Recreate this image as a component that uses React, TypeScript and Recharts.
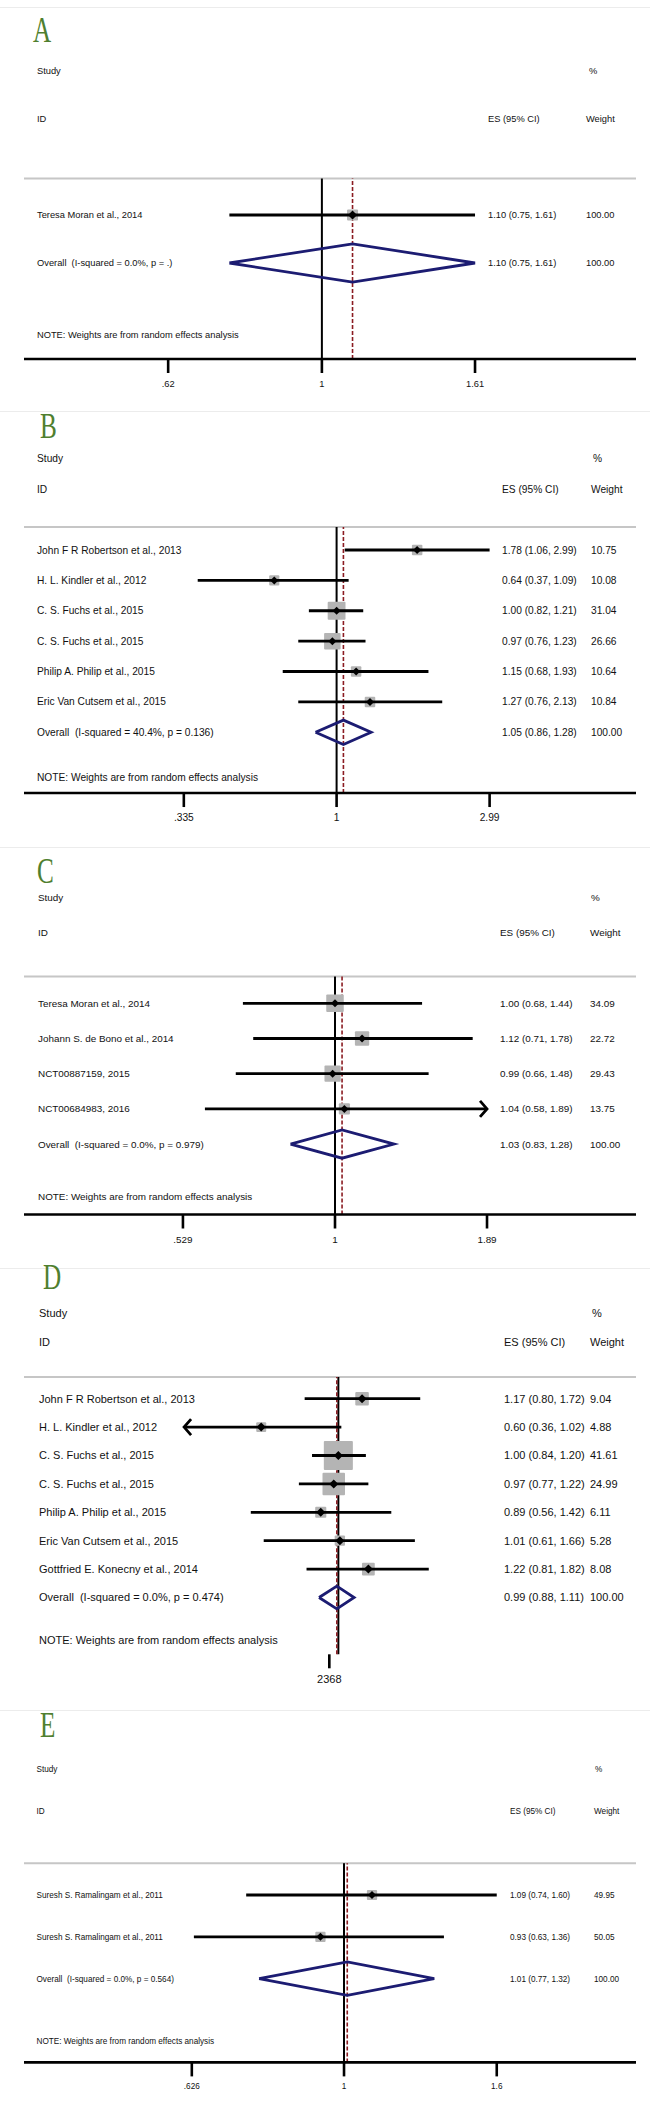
import { ComposedChart, Scatter, XAxis, YAxis, ReferenceLine } from 'recharts'

// ---- A
const aNames = ['Teresa Moran et al., 2014']
const aES = [1.1]
const aLo = [0.75]
const aHi = [1.61]
const aWeight = [100.0]
const aArrow = ['none']
const aOverall = [1.1, 0.75, 1.61]
const aHet = 'Overall  (I-squared = 0.0%, p = .)'
const aTicks = [0.62, 1, 1.61]
const aTickLabels = ['.62', '1', '1.61']

// ---- B
const bNames = [
  'John F R Robertson et al., 2013',
  'H. L. Kindler et al., 2012',
  'C. S. Fuchs et al., 2015',
  'C. S. Fuchs et al., 2015',
  'Philip A. Philip et al., 2015',
  'Eric Van Cutsem et al., 2015',
]
const bES = [1.78, 0.64, 1.0, 0.97, 1.15, 1.27]
const bLo = [1.06, 0.37, 0.82, 0.76, 0.68, 0.76]
const bHi = [2.99, 1.09, 1.21, 1.23, 1.93, 2.13]
const bWeight = [10.75, 10.08, 31.04, 26.66, 10.64, 10.84]
const bArrow = ['none', 'none', 'none', 'none', 'none', 'none']
const bOverall = [1.05, 0.86, 1.28]
const bHet = 'Overall  (I-squared = 40.4%, p = 0.136)'
const bTicks = [0.335, 1, 2.99]
const bTickLabels = ['.335', '1', '2.99']

// ---- C
const cNames = [
  'Teresa Moran et al., 2014',
  'Johann S. de Bono et al., 2014',
  'NCT00887159, 2015',
  'NCT00684983, 2016',
]
const cES = [1.0, 1.12, 0.99, 1.04]
const cLo = [0.68, 0.71, 0.66, 0.58]
const cHi = [1.44, 1.78, 1.48, 1.89]
const cWeight = [34.09, 22.72, 29.43, 13.75]
const cArrow = ['none', 'none', 'none', 'right']
const cOverall = [1.03, 0.83, 1.28]
const cHet = 'Overall  (I-squared = 0.0%, p = 0.979)'
const cTicks = [0.529, 1, 1.89]
const cTickLabels = ['.529', '1', '1.89']

// ---- D
const dNames = [
  'John F R Robertson et al., 2013',
  'H. L. Kindler et al., 2012',
  'C. S. Fuchs et al., 2015',
  'C. S. Fuchs et al., 2015',
  'Philip A. Philip et al., 2015',
  'Eric Van Cutsem et al., 2015',
  'Gottfried E. Konecny et al., 2014',
]
const dES = [1.17, 0.6, 1.0, 0.97, 0.89, 1.01, 1.22]
const dLo = [0.8, 0.36, 0.84, 0.77, 0.56, 0.61, 0.81]
const dHi = [1.72, 1.02, 1.2, 1.22, 1.42, 1.66, 1.82]
const dWeight = [9.04, 4.88, 41.61, 24.99, 6.11, 5.28, 8.08]
const dArrow = ['none', 'left', 'none', 'none', 'none', 'none', 'none']
const dOverall = [0.99, 0.88, 1.11]
const dHet = 'Overall  (I-squared = 0.0%, p = 0.474)'
const dTicks = [0.942]
const dTickLabels = ['2368']

// ---- E
const eNames = ['Suresh S. Ramalingam et al., 2011', 'Suresh S. Ramalingam et al., 2011']
const eES = [1.09, 0.93]
const eLo = [0.74, 0.63]
const eHi = [1.6, 1.36]
const eWeight = [49.95, 50.05]
const eArrow = ['none', 'none']
const eOverall = [1.01, 0.77, 1.32]
const eHet = 'Overall  (I-squared = 0.0%, p = 0.564)'
const eTicks = [0.626, 1, 1.6]
const eTickLabels = ['.626', '1', '1.6']

const NAVY = '#1c1c72'
const RED = '#8b1c22'
const FONT = '"Liberation Sans", Arial, sans-serif'

const panels = [
  {
    letter: 'A', names: aNames, es: aES, lo: aLo, hi: aHi, w: aWeight, arrow: aArrow, overall: aOverall, het: aHet,
    ticks: aTicks, tickLabels: aTickLabels, domain: [0.396, 2.656],
    top: 7, height: 404, row0: 208, step: 48, fs: 9.3, nameX: 37, esX: 488, wX: 586, pctX: 589,
    letterX: 33, letterBase: 35, boxK: 1.1, marker: 4.5, axisLine: true,
  },
  {
    letter: 'B', names: bNames, es: bES, lo: bLo, hi: bHi, w: bWeight, arrow: bArrow, overall: bOverall, het: bHet,
    ticks: bTicks, tickLabels: bTickLabels, domain: [0.1067, 8.527],
    top: 411, height: 436, row0: 139, step: 30.38, fs: 10.2, nameX: 37, esX: 502, wX: 591, pctX: 593,
    letterX: 40, letterBase: 27, boxK: 3.2, marker: 4, axisLine: true,
  },
  {
    letter: 'C', names: cNames, es: cES, lo: cLo, hi: cHi, w: cWeight, arrow: cArrow, overall: cOverall, het: cHet,
    ticks: cTicks, tickLabels: cTickLabels, domain: [0.2719, 3.527],
    top: 847, height: 421, row0: 156.3, step: 35.2, fs: 9.9, nameX: 38, esX: 500, wX: 590, pctX: 591,
    letterX: 37, letterBase: 36, boxK: 3.0, marker: 4, axisLine: true,
  },
  {
    letter: 'D', names: dNames, es: dES, lo: dLo, hi: dHi, w: dWeight, arrow: dArrow, overall: dOverall, het: dHet,
    ticks: dTicks, tickLabels: dTickLabels, domain: [0.1247, 7.18],
    top: 1268, height: 442, row0: 130.7, step: 28.4, fs: 11, nameX: 39, esX: 504, wX: 590, pctX: 592,
    letterX: 43, letterBase: 21, boxK: 4.5, marker: 4.5, axisLine: false,
  },
  {
    letter: 'E', names: eNames, es: eES, lo: eLo, hi: eHi, w: eWeight, arrow: eArrow, overall: eOverall, het: eHet,
    ticks: eTicks, tickLabels: eTickLabels, domain: [0.3735, 2.456],
    top: 1710, height: 405, row0: 185, step: 41.85, fs: 8.2, nameX: 36.5, esX: 510, wX: 594, pctX: 595,
    letterX: 40, letterBase: 27, boxK: 1.45, marker: 4, axisLine: true,
  },
]

type Panel = (typeof panels)[number]

const fmtES = (e: number, l: number, h: number) => `${e.toFixed(2)} (${l.toFixed(2)}, ${h.toFixed(2)})`

function ForestPanel({ p }: { p: Panel }) {
  const n = p.names.length
  const AX_H = 30
  const plotBottom = p.row0 + (n + 2) * p.step
  const margin = {
    top: p.row0 - 0.76 * p.step,
    bottom: p.height - AX_H - plotBottom,
    left: 24,
    right: 14,
  }

  const studies = p.names.map((name, i) => ({
    x: p.es[i], y: i, name, esText: fmtES(p.es[i], p.lo[i], p.hi[i]),
    wText: p.w[i].toFixed(2), box: p.boxK * Math.sqrt(p.w[i]),
  }))
  const [oEs, oLo, oHi] = p.overall
  const diamond = [
    { x: oLo, y: n }, { x: oEs, y: n - 0.4 }, { x: oHi, y: n }, { x: oEs, y: n + 0.4 }, { x: oLo, y: n },
  ]

  const textProps = { fontSize: p.fs, fill: '#111', fontFamily: FONT }

  const BoxShape = (props: any) => {
    const { cx, cy } = props
    const d = props.payload ?? props
    const s = d.box
    return (
      <g>
        <rect x={cx - s / 2} y={cy - s / 2} width={s} height={s} fill="#b4b4b4" rx={1} />
        <text x={p.nameX} y={cy + 0.35 * p.fs} {...textProps}>{d.name}</text>
        <text x={p.esX} y={cy + 0.35 * p.fs} {...textProps}>{d.esText}</text>
        <text x={p.wX} y={cy + 0.35 * p.fs} {...textProps}>{d.wText}</text>
      </g>
    )
  }
  const MarkerShape = (props: any) => {
    const { cx, cy } = props
    const m = p.marker
    return <path d={`M${cx - m},${cy}L${cx},${cy - m}L${cx + m},${cy}L${cx},${cy + m}Z`} fill="#000" />
  }
  const EndShape = (props: any) => {
    const { cx, cy } = props
    const end = (props.payload ?? props).end
    if (!end) return <g />
    const dx = end === 'left' ? 7 : -7
    return (
      <path d={`M${cx + dx},${cy - 8}L${cx},${cy}L${cx + dx},${cy + 8}`} fill="none" stroke="#000" strokeWidth={2.8} />
    )
  }

  return (
    <div style={{ position: 'absolute', left: 0, top: p.top, width: 650, height: p.height }}>
      <div style={{ position: 'absolute', left: 0, top: 0, width: 650, height: 1, background: '#ececec' }} />
      <ComposedChart width={650} height={p.height} margin={margin} style={{ fontFamily: FONT }}>
        <XAxis
          type="number"
          dataKey="x"
          scale="log"
          domain={p.domain}
          allowDataOverflow
          ticks={p.ticks}
          interval={0}
          height={AX_H}
          tickSize={14}
          tickMargin={7}
          axisLine={p.axisLine ? { stroke: '#000', strokeWidth: 2.6 } : false}
          tickLine={{ stroke: '#000', strokeWidth: 2.6 }}
          tick={{ fontSize: p.fs, fill: '#111', fontFamily: FONT }}
          tickFormatter={(_v: number, i: number) => p.tickLabels[i]}
        />
        <YAxis type="number" dataKey="y" domain={[-0.76, n + 2]} reversed hide allowDataOverflow />
        <ReferenceLine y={-0.76} stroke="#c6c6c6" strokeWidth={2} />
        <ReferenceLine x={1} stroke="#000" strokeWidth={2} />
        <Scatter data={studies} shape={BoxShape} isAnimationActive={false} />
        {studies.map((s, i) => (
          <Scatter
            key={i}
            data={[
              { x: p.lo[i], y: i, end: p.arrow[i] === 'left' ? 'left' : '' },
              { x: p.hi[i], y: i, end: p.arrow[i] === 'right' ? 'right' : '' },
            ]}
            line={{ stroke: '#000', strokeWidth: 2.8 }}
            lineType="joint"
            shape={EndShape}
            isAnimationActive={false}
          />
        ))}
        <Scatter
          data={diamond}
          line={{ stroke: NAVY, strokeWidth: 2.8, strokeLinejoin: 'miter' }}
          lineType="joint"
          shape={() => <g />}
          isAnimationActive={false}
        />
        <Scatter data={studies} shape={MarkerShape} isAnimationActive={false} />
        <ReferenceLine x={oEs} stroke={RED} strokeWidth={1.6} strokeDasharray="4 2" />
      </ComposedChart>
    </div>
  )
}

// header, overall row and note texts for one panel, in page coordinates
function PanelText({ p }: { p: Panel }) {
  const n = p.names.length
  const rowY = (v: number) => p.top + p.row0 + v * p.step + 0.35 * p.fs
  const textProps = { fontSize: p.fs, fill: '#111', fontFamily: FONT }
  const [oEs, oLo, oHi] = p.overall
  return (
    <g>
      <text
        transform={`translate(${p.letterX},${p.top + p.letterBase}) scale(0.7,1)`}
        fontFamily='"Liberation Serif", serif'
        fontSize={36}
        fill="#4f7f2f"
      >
        {p.letter}
      </text>
      <text x={p.nameX} y={rowY(-3)} {...textProps}>Study</text>
      <text x={p.pctX} y={rowY(-3)} {...textProps}>%</text>
      <text x={p.nameX} y={rowY(-2)} {...textProps}>ID</text>
      <text x={p.esX} y={rowY(-2)} {...textProps}>ES (95% CI)</text>
      <text x={p.wX} y={rowY(-2)} {...textProps}>Weight</text>
      <text x={p.nameX} y={rowY(n)} {...textProps} style={{ whiteSpace: 'pre' }}>{p.het}</text>
      <text x={p.esX} y={rowY(n)} {...textProps}>{fmtES(oEs, oLo, oHi)}</text>
      <text x={p.wX} y={rowY(n)} {...textProps}>100.00</text>
      <text x={p.nameX} y={rowY(n + 1.5)} {...textProps}>NOTE: Weights are from random effects analysis</text>
    </g>
  )
}

export default function App() {
  return (
    <div style={{ position: 'absolute', left: 0, top: 0, width: 650, height: 2115, background: '#fff' }}>
      {panels.map((p) => (
        <ForestPanel key={p.letter} p={p} />
      ))}
      <svg
        width={650}
        height={2115}
        style={{ position: 'absolute', left: 0, top: 0, pointerEvents: 'none' }}
      >
        {panels.map((p) => (
          <PanelText key={p.letter} p={p} />
        ))}
      </svg>
    </div>
  )
}
